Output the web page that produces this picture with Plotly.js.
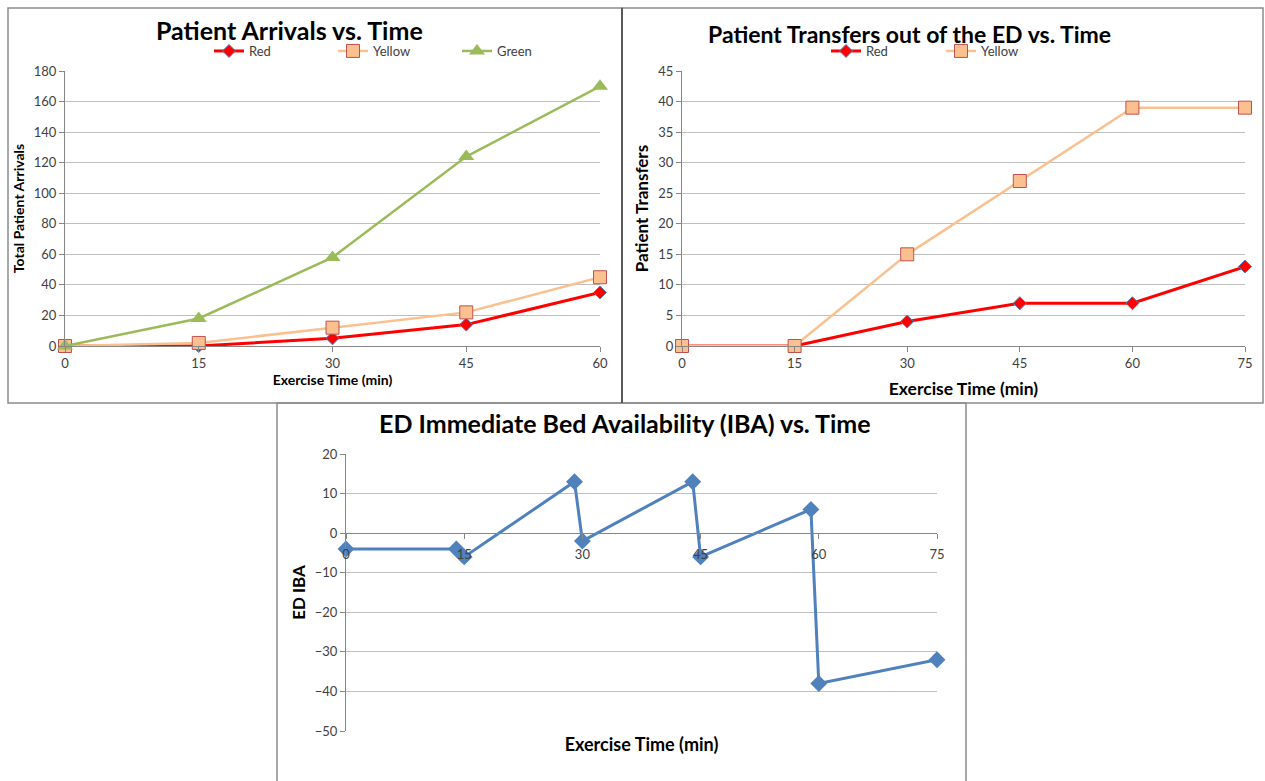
<!DOCTYPE html>
<html>
<head>
<meta charset="utf-8">
<script src="https://cdn.plot.ly/plotly-3.0.1.min.js"></script>
<style>html,body{margin:0;padding:0;background:#fff;}#chart{width:1265px;height:781px;}</style>
</head>
<body>
<div id="chart"></div>
<script>
// ---- data ----
const arrivalTimes = [0, 15, 30, 45, 60];
const arrivalsRed = [0, 0, 5, 14, 35];
const arrivalsYellow = [0, 2, 12, 22, 45];
const arrivalsGreen = [0, 18, 58, 124, 170];

const transferTimes = [0, 15, 30, 45, 60, 75];
const transfersRed = [0, 0, 4, 7, 7, 13];
const transfersYellow = [0, 0, 15, 27, 39, 39];

const ibaTimes = [0, 14, 15, 29, 30, 44, 45, 59, 60, 75];
const ibaValues = [-4, -4, -6, 13, -2, 13, -6, 6, -38, -32];

const W = 1265, H = 781;
const FONT = 'Lato, "Open Sans", sans-serif';
const px = v => v / W;
const py = v => 1 - v / H;

const redLine = {color: '#FF0000', width: 3};
const redMarker = {symbol: 'diamond', size: 10, color: '#FF0000', line: {color: '#4F81BD', width: 1}};
const yelLine = {color: '#FAC090', width: 2.5};
const yelMarker = {symbol: 'square', size: 13, color: '#FAC090', line: {color: '#C0504D', width: 1}};
const grnLine = {color: '#9BBB59', width: 2.5};
const grnMarker = {symbol: 'triangle-up', size: 14, color: '#9BBB59'};

const traces = [
  {x: arrivalTimes, y: arrivalsRed, name: 'Red', mode: 'lines+markers', line: redLine, marker: redMarker, xaxis: 'x', yaxis: 'y', legend: 'legend', cliponaxis: false},
  {x: arrivalTimes, y: arrivalsYellow, name: 'Yellow', mode: 'lines+markers', line: yelLine, marker: yelMarker, xaxis: 'x', yaxis: 'y', legend: 'legend', cliponaxis: false},
  {x: arrivalTimes, y: arrivalsGreen, name: 'Green', mode: 'lines+markers', line: grnLine, marker: grnMarker, xaxis: 'x', yaxis: 'y', legend: 'legend', cliponaxis: false},
  {x: transferTimes, y: transfersRed, name: 'Red', mode: 'lines+markers', line: redLine, marker: redMarker, xaxis: 'x2', yaxis: 'y2', legend: 'legend2', cliponaxis: false},
  {x: transferTimes, y: transfersYellow, name: 'Yellow', mode: 'lines+markers', line: yelLine, marker: yelMarker, xaxis: 'x2', yaxis: 'y2', legend: 'legend2', cliponaxis: false},
  {x: ibaTimes, y: ibaValues, name: 'ED IBA', mode: 'lines+markers', line: {color: '#4F81BD', width: 3}, marker: {symbol: 'diamond', size: 13, color: '#4F81BD'}, xaxis: 'x3', yaxis: 'y3', showlegend: false, cliponaxis: false}
];

const axisBase = {
  showline: true, linecolor: '#868686', linewidth: 1,
  ticks: 'outside', ticklen: 5, tickcolor: '#868686',
  tickfont: {family: FONT, size: 13, color: '#404040'},
  zeroline: false, fixedrange: true
};
function xAxis(domain, range, dtick, title, tsize, standoff, extra) {
  return Object.assign({}, axisBase, {
    domain: domain, range: range, dtick: dtick, tick0: 0, showgrid: false,
    title: {text: title, font: {family: FONT, size: tsize, color: '#000', weight: 'bold'}, standoff: standoff}
  }, extra || {});
}
function yAxis(domain, range, dtick, title, tsize, standoff, extra) {
  return Object.assign({}, axisBase, {
    domain: domain, range: range, dtick: dtick, tick0: 0,
    showgrid: true, gridcolor: '#BFBFBF', gridwidth: 1,
    title: {text: title, font: {family: FONT, size: tsize, color: '#000', weight: 'bold'}, standoff: standoff}
  }, extra || {});
}

const y1dom = [py(346), py(71)];
const y3dom = [py(731), py(454)];
const y3range = [-50, 20];
const zeroPos = y3dom[0] + (0 - y3range[0]) / (y3range[1] - y3range[0]) * (y3dom[1] - y3dom[0]);

const legendBase = {
  orientation: 'h', xanchor: 'left', yanchor: 'middle',
  bgcolor: 'rgba(0,0,0,0)', font: {family: FONT, size: 13, color: '#404040'},
  itemwidth: 30, entrywidthmode: 'pixels'
};

const layout = {
  width: W, height: H,
  margin: {l: 0, r: 0, t: 0, b: 0},
  paper_bgcolor: '#fff', plot_bgcolor: '#fff',
  font: {family: FONT},
  xaxis: xAxis([px(65), px(600)], [0, 60], 15, 'Exercise Time (min)', 14, 0, {anchor: 'y'}),
  yaxis: yAxis(y1dom, [0, 180], 20, 'Total Patient Arrivals', 14, 5, {anchor: 'x'}),
  xaxis2: xAxis([px(682), px(1245)], [0, 75], 15, 'Exercise Time (min)', 17.5, 13, {anchor: 'y2'}),
  yaxis2: yAxis(y1dom, [0, 45], 5, 'Patient Transfers', 17, 5, {anchor: 'x2'}),
  xaxis3: xAxis([px(346), px(937)], [0, 75], 15, 'Exercise Time (min)', 18, 177, {anchor: 'free', overlaying: false, position: zeroPos, ticklabelstandoff: 4}),
  yaxis3: yAxis(y3dom, y3range, 10, 'ED IBA', 17, 4, {anchor: 'x3'}),
  legend: Object.assign({}, legendBase, {x: px(209), y: py(51), entrywidth: 79}),
  legend2: Object.assign({}, legendBase, {x: px(826), y: py(51), entrywidth: 70}),
  annotations: [
    {text: 'Patient Arrivals vs. Time', xref: 'paper', yref: 'paper', x: px(289), y: py(30), xanchor: 'center', yanchor: 'middle', showarrow: false, font: {family: FONT, size: 25, color: '#000', weight: 'bold'}},
    {text: 'Patient Transfers out of the ED vs. Time', xref: 'paper', yref: 'paper', x: px(909), y: py(34), xanchor: 'center', yanchor: 'middle', showarrow: false, font: {family: FONT, size: 23, color: '#000', weight: 'bold'}},
    {text: 'ED Immediate Bed Availability (IBA) vs. Time', xref: 'paper', yref: 'paper', x: px(625), y: py(423), xanchor: 'center', yanchor: 'middle', showarrow: false, font: {family: FONT, size: 25, color: '#000', weight: 'bold'}}
  ],
  shapes: [
    {type: 'rect', xref: 'paper', yref: 'paper', x0: px(8), x1: px(622), y0: py(403), y1: py(8), line: {color: '#8C8C8C', width: 1.5}},
    {type: 'rect', xref: 'paper', yref: 'paper', x0: px(622), x1: px(1263), y0: py(403), y1: py(8), line: {color: '#8C8C8C', width: 1.5}},
    {type: 'rect', xref: 'paper', yref: 'paper', x0: px(277), x1: px(966), y0: py(790), y1: py(403), line: {color: '#8C8C8C', width: 1.5}},
    {type: 'line', xref: 'paper', yref: 'paper', x0: px(622), x1: px(622), y0: py(403), y1: py(8), line: {color: '#595959', width: 2}}
  ]
};

Plotly.newPlot('chart', traces, layout, {staticPlot: true, displayModeBar: false});
</script>
</body>
</html>
